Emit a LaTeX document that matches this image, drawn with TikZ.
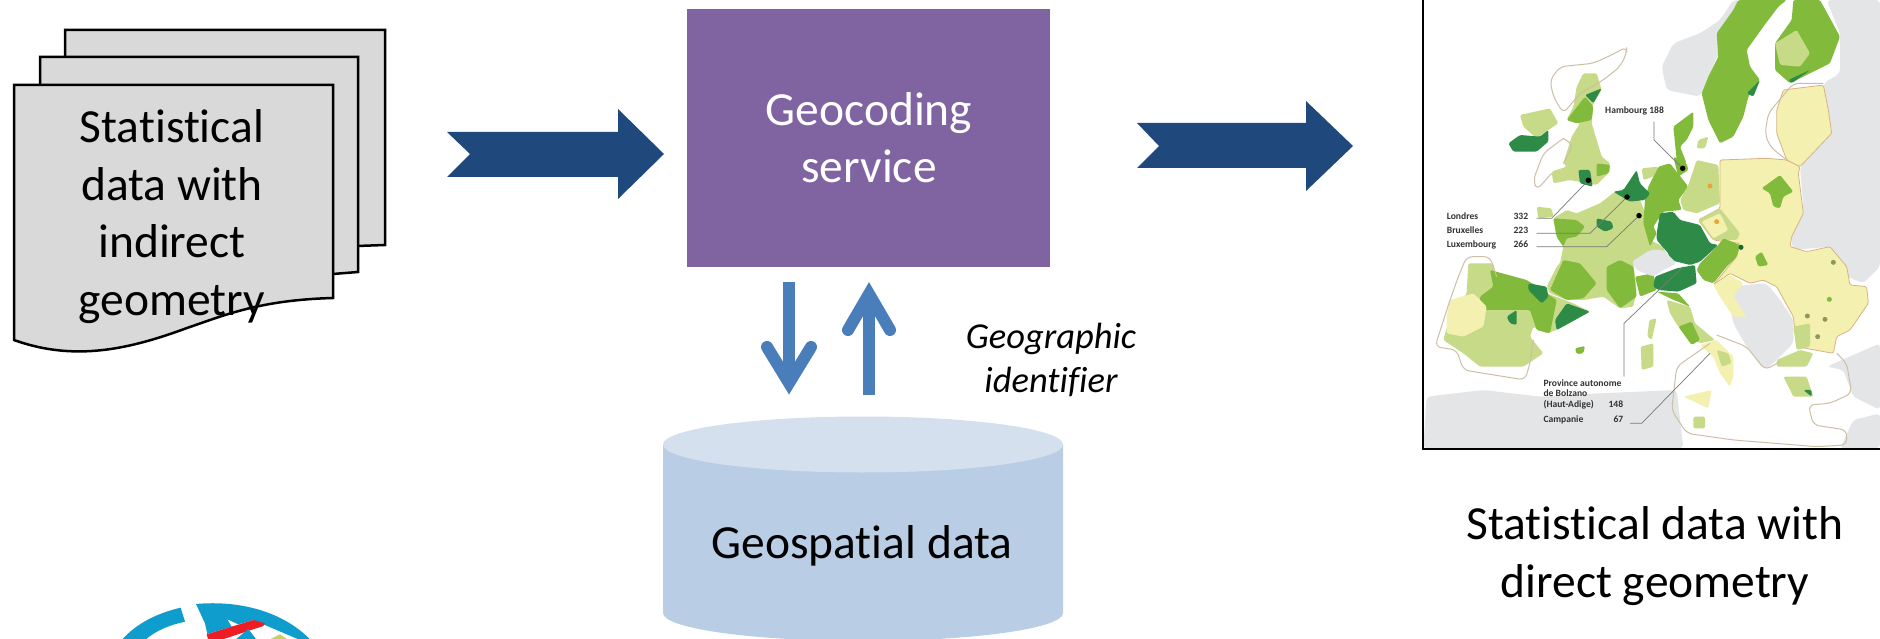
\documentclass[tikz,border=0pt]{standalone}
\usepackage{fontspec}
\setmainfont{Carlito}[Ligatures=CommonOff]
\definecolor{docgrey}{HTML}{D9D9D9}
\definecolor{purplebox}{HTML}{8064A2}
\definecolor{navy}{HTML}{1F497D}
\definecolor{steel}{HTML}{4A7EBB}
\definecolor{cylbody}{HTML}{B9CDE5}
\definecolor{cyltop}{HTML}{D5E0EF}
\definecolor{landgrey}{HTML}{E4E5E7}
\definecolor{mapyel}{HTML}{F4F1B0}
\definecolor{maplg}{HTML}{C6DA88}
\definecolor{mapmg}{HTML}{82BA3C}
\definecolor{mapdg}{HTML}{2E8A47}
\definecolor{mapoli}{HTML}{D6D98A}
\definecolor{loopc}{HTML}{CDBFA6}
\definecolor{leader}{HTML}{77797B}
\definecolor{logoblue}{HTML}{0E9DCC}
\definecolor{logored}{HTML}{EE1C25}
\definecolor{logogreen}{HTML}{C5D068}
\tikzset{
  x=1pt,y=-1pt,
  sheet/.style={fill=docgrey,draw=black,line width=2.5pt,line join=miter},
  blockarrow/.style={fill=navy},
  linkshaft/.style={draw=steel,line width=12pt,line cap=butt},
  linkhead/.style={draw=steel,line width=12pt,line cap=round,line join=miter},
  bigtext/.style={font=\fontsize{47.5}{57.5}\selectfont,align=center,inner sep=0pt},
  yl/.style={fill=mapyel,rounded corners=1.5pt},
  lg/.style={fill=maplg,rounded corners=1.5pt},
  mg/.style={fill=mapmg,rounded corners=1.5pt},
  dg/.style={fill=mapdg,rounded corners=1.5pt},
  ol/.style={fill=mapoli,rounded corners=1.5pt},
  gy/.style={fill=landgrey,rounded corners=4pt},
  loopline/.style={draw=loopc,line width=1pt,rounded corners=6pt},
  leadline/.style={draw=leader,line width=.7pt},
  citydot/.style={circle,fill=black,inner sep=0pt,minimum size=5.5pt},
  citymark/.style={circle,fill=#1,inner sep=0pt,minimum size=5pt},
  maplabel/.style={font=\fontsize{9.6}{11}\selectfont\bfseries,text=black!80,inner sep=0pt,anchor=base west},
}
\begin{document}
\begin{tikzpicture}
\useasboundingbox (0,0) rectangle (1880,639);
\clip (0,0) rectangle (1880,639);
\fill[white] (0,0) rectangle (1880,639);

% stacked documents
\path[sheet] (65,30) -- (385,30) -- (385,245) -- (300,248) -- (65,248) -- cycle;
\path[sheet] (40,57) -- (358,57) -- (358,272) -- (320,275) -- (40,275) -- cycle;
\path[sheet] (14,85) -- (333,85) -- (333,298) .. controls (260,300) and (225,315) .. (187,328) .. controls (130,349) and (75,362) .. (14,340) -- cycle;
\node[bigtext,anchor=base] (indirect) at (172,315) {Statistical\\data with\\indirect\\geometry};

% block arrows
\path[blockarrow] (447,132) -- (618,132) -- (618,109) -- (664,154) -- (618,199) -- (618,177) -- (447,177) -- (470,154) -- cycle;
\path[blockarrow] (1137,123) -- (1306,123) -- (1306,101) -- (1353,146) -- (1306,191) -- (1306,168) -- (1137,168) -- (1159,146) -- cycle;

% service
\node[fill=purplebox,minimum width=363pt,minimum height=258pt,inner sep=0pt] (service) at (868.5,138) {};
\node[bigtext,text=white,anchor=base] (servicetext) at (869,183) {Geocoding\\service};

% database
\fill[cylbody] (663,444.5) -- (663,613) arc[start angle=180,end angle=360,x radius=200pt,y radius=28pt] -- (1063,444.5) -- cycle;
\fill[cyltop] (863,444.5) ellipse[x radius=200pt,y radius=28pt];
\node[font=\fontsize{47.5}{57}\selectfont,inner sep=0pt,anchor=base] (geodata) at (862,558) {Geospatial data};

% exchange arrows
\coordinate (dntop) at (789,282);
\coordinate (dnapex) at (789,383);
\coordinate (dnl) at (767,347);
\coordinate (dnr) at (811,347);
\coordinate (uptop) at (869,294);
\coordinate (upbase) at (869,395);
\coordinate (upl) at (848,330);
\coordinate (upr) at (890,330);
\draw[linkshaft] (dntop) -- (dnapex);
\draw[linkhead] (dnl) -- (dnapex) -- (dnr);
\draw[linkshaft] (upbase) -- (uptop);
\draw[linkhead] (upl) -- (uptop) -- (upr);
\node[font=\fontsize{36.5}{44}\selectfont\itshape,align=center,inner sep=0pt,anchor=base] (geoid) at (1051,392) {Geographic\\identifier};

% map
\begin{scope}[shift={(1400,0)},x=.33333pt,y=-.33333pt]
  % surrounding land
  \path[gy] (1000,0) -- (960,60) -- (900,100) -- (820,130) -- (785,200) -- (800,270) -- (900,290) -- (960,150) -- (1020,0) -- cycle;
  \path[gy] (1280,0) -- (1440,0) -- (1440,800) -- (1390,850) -- (1340,830) -- (1290,740) -- (1180,750) -- (1170,700) -- (1210,620) -- (1200,500) -- (1290,400) -- (1270,250) -- (1320,220) -- (1320,100) -- cycle;
  \path[gy] (980,860) -- (1100,850) -- (1140,900) -- (1180,960) -- (1180,1030) -- (1130,1080) -- (1095,1110) -- (1040,1040) -- (1000,970) -- cycle;
  \path[gy] (1280,1100) -- (1440,1030) -- (1440,1230) -- (1360,1190) -- (1330,1110) -- cycle;
  \path[gy] (80,1190) -- (250,1170) -- (420,1190) -- (600,1180) -- (830,1170) -- (850,1345) -- (70,1345) -- cycle;
  \path[gy] (1320,1345) -- (1440,1345) -- (1440,1240) -- (1360,1260) -- cycle;
  % east
  \path[yl,draw=loopc!80!orange,line width=.8pt] (960,480) -- (1100,475) -- (1160,480) -- (1200,500) -- (1195,520) -- (1210,640) -- (1175,710) -- (1170,740) -- (1220,755) -- (1290,740) -- (1340,800) -- (1350,855) -- (1400,860) -- (1405,910) -- (1350,990) -- (1310,1010) -- (1300,1060) -- (1190,1040) -- (1180,950) -- (1130,860) -- (1090,840) -- (1050,850) -- (990,820) -- (940,855) -- (1010,770) -- (1020,730) -- (940,720) -- (895,660) -- (960,625) -- cycle;
  \path[yl,draw=loopc!80!orange,line width=.8pt] (1150,270) -- (1270,255) -- (1285,330) -- (1295,400) -- (1200,500) -- (1160,480) -- (1130,400) -- (1130,330) -- cycle;
  \path[yl] (940,855) -- (990,825) -- (1030,850) -- (1000,890) -- (1040,950) -- (1000,950) -- (960,890) -- cycle;
  \path[mg] (1085,565) -- (1140,525) -- (1180,575) -- (1150,590) -- (1140,625) -- (1120,620) -- (1110,580) -- cycle;
  \path[mg] (1065,770) -- (1085,755) -- (1105,795) -- (1075,800) -- cycle;
  \path[ol] (960,670) -- (1020,700) -- (1010,720) -- (975,720) -- cycle;
  % France
  \path[lg] (480,790) -- (490,740) -- (470,710) -- (460,655) -- (500,630) -- (530,640) -- (600,610) -- (645,575) -- (720,600) -- (740,650) -- (750,720) -- (790,740) -- (800,770) -- (720,790) -- (700,790) -- (710,870) -- (700,920) -- (660,925) -- (610,890) -- (550,900) -- (500,900) -- (450,880) -- (440,860) -- (470,800) -- cycle;
  \path[lg] (410,620) -- (455,625) -- (460,650) -- (415,655) -- cycle;
  \path[mg] (620,800) -- (660,780) -- (700,800) -- (710,890) -- (660,925) -- (620,870) -- cycle;
  \path[mg] (705,830) -- (760,820) -- (770,870) -- (720,890) -- cycle;
  \path[mg] (450,870) -- (490,780) -- (540,790) -- (590,850) -- (550,895) -- (500,900) -- cycle;
  \path[mg] (460,655) -- (530,660) -- (555,680) -- (530,710) -- (500,715) -- (490,740) -- (470,710) -- cycle;
  \path[dg] (590,655) -- (635,665) -- (640,685) -- (615,695) -- (590,680) -- cycle;
  % Benelux, Germany
  \path[mg] (775,500) -- (810,490) -- (865,560) -- (835,600) -- (845,630) -- (790,635) -- (760,680) -- (770,700) -- (750,740) -- (730,670) -- (735,600) -- (745,560) -- cycle;
  \path[dg] (640,575) -- (670,570) -- (710,510) -- (720,550) -- (750,580) -- (735,600) -- (690,605) -- cycle;
  \path[lg] (725,505) -- (775,500) -- (760,530) -- (730,540) -- cycle;
  \path[mg] (820,470) -- (860,490) -- (865,510) -- (835,530) -- cycle;
  \path[lg] (840,600) -- (865,555) -- (890,480) -- (955,495) -- (960,610) -- (890,640) -- (850,630) -- cycle;
  \path[lg] (895,660) -- (960,625) -- (1020,700) -- (1010,720) -- (940,720) -- cycle;
  \path[yl] (905,665) -- (960,640) -- (985,690) -- (940,715) -- cycle;
  \path[dg] (770,700) -- (780,640) -- (820,635) -- (840,660) -- (900,675) -- (930,730) -- (955,735) -- (900,785) -- (870,795) -- (810,780) -- (805,760) -- (770,720) -- cycle;
  \path[mg] (900,790) -- (955,735) -- (970,715) -- (1020,735) -- (1010,770) -- (980,800) -- (940,850) -- (910,840) -- (890,810) -- cycle;
  \path[fill=landgrey,rounded corners=3pt] (695,785) -- (750,750) -- (790,750) -- (830,790) -- (790,810) -- (760,830) -- (710,810) -- cycle;
  \path[dg] (760,860) -- (765,830) -- (830,805) -- (885,795) -- (890,850) -- (835,875) -- (775,870) -- cycle;
  % Italy
  \path[lg] (800,900) -- (870,920) -- (885,970) -- (945,1020) -- (900,1030) -- (835,980) -- (810,940) -- cycle;
  \path[mg] (770,875) -- (835,880) -- (870,920) -- (810,895) -- cycle;
  \path[mg] (835,980) -- (875,965) -- (900,1020) -- (875,1035) -- cycle;
  \path[yl] (900,1035) -- (950,1020) -- (1000,1070) -- (1000,1130) -- (990,1160) -- (960,1120) -- (940,1070) -- cycle;
  \path[lg] (950,1050) -- (985,1060) -- (995,1090) -- (965,1100) -- cycle;
  \path[yl] (850,1190) -- (935,1170) -- (925,1225) -- cycle;
  \path[lg] (880,1250) -- (915,1250) -- (915,1285) -- (880,1285) -- cycle;
  \path[lg] (722,1040) -- (760,1030) -- (760,1100) -- (725,1110) -- cycle;
  \path[lg] (748,960) -- (770,955) -- (755,1020) -- (742,1010) -- cycle;
  \path[mg] (525,1045) -- (555,1038) -- (550,1060) -- (530,1062) -- cycle;
  % Iberia
  \path[lg] (205,790) -- (280,790) -- (290,840) -- (400,850) -- (440,880) -- (520,910) -- (570,935) -- (470,990) -- (440,1000) -- (400,980) -- (390,1010) -- (430,1060) -- (370,1100) -- (240,1100) -- (190,1060) -- (130,1020) -- (150,950) -- (200,880) -- cycle;
  \path[mg] (270,810) -- (380,840) -- (470,900) -- (450,1000) -- (410,990) -- (390,930) -- (340,930) -- (240,930) -- (240,890) -- (280,860) -- cycle;
  \path[dg] (385,850) -- (440,860) -- (445,890) -- (425,910) -- (385,870) -- cycle;
  \path[dg] (500,910) -- (570,935) -- (470,990) -- (465,960) -- cycle;
  \path[dg] (320,950) -- (350,930) -- (350,975) -- (330,970) -- cycle;
  \path[yl] (150,900) -- (220,880) -- (260,920) -- (250,980) -- (190,1010) -- (140,1000) -- (140,950) -- cycle;
  % Britain, Ireland
  \path[lg] (550,220) -- (590,220) -- (605,270) -- (580,310) -- (575,370) -- (605,470) -- (630,490) -- (630,515) -- (590,555) -- (510,540) -- (460,550) -- (455,515) -- (500,500) -- (490,490) -- (515,410) -- (540,370) -- (500,360) -- (520,320) -- (530,260) -- cycle;
  \path[mg] (500,360) -- (555,290) -- (580,320) -- (575,360) -- (530,370) -- cycle;
  \path[dg] (555,285) -- (605,265) -- (580,310) -- cycle;
  \path[mg] (590,490) -- (630,495) -- (625,520) -- (590,530) -- cycle;
  \path[dg] (535,510) -- (570,510) -- (578,560) -- (540,550) -- cycle;
  \path[lg] (360,345) -- (450,325) -- (475,370) -- (445,390) -- (410,415) -- (370,380) -- cycle;
  \path[dg] (325,430) -- (360,405) -- (420,410) -- (445,390) -- (445,425) -- (410,455) -- (340,455) -- cycle;
  % Scandinavia
  \path[mg] (1015,0) -- (1000,30) -- (950,100) -- (955,170) -- (925,230) -- (905,280) -- (925,360) -- (960,430) -- (1000,410) -- (1030,350) -- (1045,290) -- (1080,240) -- (1050,200) -- (1040,150) -- (1090,80) -- (1135,20) -- (1160,0) -- cycle;
  \path[dg] (1040,280) -- (1080,240) -- (1060,290) -- cycle;
  \path[mg] (1180,0) -- (1260,0) -- (1320,110) -- (1290,190) -- (1170,250) -- (1125,210) -- (1125,130) -- (1175,60) -- cycle;
  \path[lg] (1125,130) -- (1190,90) -- (1230,160) -- (1200,200) -- (1140,195) -- cycle;
  \path[dg] (1165,240) -- (1230,210) -- (1175,250) -- cycle;
  \path[mg] (820,380) -- (880,335) -- (880,380) -- (860,420) -- (840,440) -- (860,490) -- (830,480) -- cycle;
  \path[lg] (895,420) -- (925,410) -- (915,445) -- (890,445) -- cycle;
  % Balkans, Greece
  \path[lg] (1180,980) -- (1230,970) -- (1230,1040) -- (1190,1050) -- cycle;
  \path[lg] (1130,1080) -- (1200,1050) -- (1240,1060) -- (1220,1100) -- (1130,1100) -- cycle;
  \path[lg] (1150,1130) -- (1220,1130) -- (1240,1190) -- (1180,1190) -- cycle;
  \path[dg] (1210,1170) -- (1235,1170) -- (1235,1190) -- cycle;
  % overseas loops
  \path[loopline] (480,200) -- (580,190) -- (645,160) -- (680,140) -- (680,160) -- (660,200) -- (610,240) -- (540,280) -- (490,340) -- (460,290) -- (450,240) -- cycle;
  \path[loopline] (490,415) -- (520,435) -- (490,490);
  \path[loopline] (490,415) -- (430,460) -- (400,540) -- (410,570) -- (455,520);
  \path[loopline] (290,830) -- (270,770) -- (200,770) -- (175,830) -- (150,900) -- (105,1040) -- (170,1050) -- (190,1110) -- (375,1140) -- (390,1090) -- (400,1020);
  \path[loopline] (1160,480) -- (1110,440) -- (1095,400) -- (1105,340) -- (1180,250) -- (1270,250);
  \path[loopline] (930,1030) -- (830,1100) -- (815,1230) -- (860,1300) -- (1000,1320) -- (1250,1340) -- (1340,1335) -- (1340,1290) -- (1240,1275) -- (1225,1215) -- (1290,1210) -- (1355,1180) -- (1340,1090) -- (1310,1060);
  \path[loopline] (950,1005) -- (1040,1040) -- (1095,1110) -- (1140,1085);
  % small city marks
  \node[citymark=orange!60!mapoli] (m1) at (930,558) {};
  \node[citymark=orange!60!mapoli] (m2) at (950,665) {};
  \node[citymark=mapdg!70!black] (m3) at (1023,742) {};
  \node[citymark=maplg!70!black] (m4) at (1300,787) {};
  \node[citymark=mapmg] (m5) at (1288,898) {};
  \node[citymark=maplg!70!black] (m6) at (1222,948) {};
  \node[citymark=maplg!70!black] (m7) at (1275,958) {};
  \node[citymark=maplg!70!black] (m8) at (1253,1010) {};
  % leaders and cities
  \coordinate (hamb) at (848,505);
  \coordinate (lond) at (565,541);
  \coordinate (brux) at (681,591);
  \coordinate (luxe) at (717,647);
  \node[citydot] (hambdot) at (hamb) {};
  \node[citydot] (londdot) at (lond) {};
  \node[citydot] (bruxdot) at (brux) {};
  \node[citydot] (luxedot) at (luxe) {};
  \coordinate (hambtop) at (762,365);
  \coordinate (hambk) at (762,420);
  \coordinate (londk) at (455,655);
  \coordinate (londe) at (410,655);
  \coordinate (bruxk) at (570,700);
  \coordinate (bruxe) at (410,700);
  \coordinate (luxek) at (620,740);
  \coordinate (luxee) at (410,740);
  \coordinate (bola) at (850,800);
  \coordinate (bolk) at (672,970);
  \coordinate (bole) at (672,1130);
  \coordinate (cama) at (930,1060);
  \coordinate (camk) at (725,1270);
  \coordinate (came) at (690,1270);
  \draw[leadline] (hambtop) -- (hambk) -- (hambdot);
  \draw[leadline] (londdot) -- (londk) -- (londe);
  \draw[leadline] (bruxdot) -- (bruxk) -- (bruxe);
  \draw[leadline] (luxedot) -- (luxek) -- (luxee);
  \draw[leadline] (bola) -- (bolk) -- (bole);
  \draw[leadline] (cama) -- (camk) -- (came);
  \node[maplabel] (lhamb) at (615,341) {Hambourg 188};
  \node[maplabel] (llond) at (140,660) {Londres};
  \node[maplabel] (nlond) at (340,660) {332};
  \node[maplabel] (lbrux) at (140,700) {Bruxelles};
  \node[maplabel] (nbrux) at (340,700) {223};
  \node[maplabel] (lluxe) at (140,743) {Luxembourg};
  \node[maplabel] (nluxe) at (340,743) {266};
  \node[maplabel] (lprov) at (430,1160) {Province autonome};
  \node[maplabel] (lbolz) at (430,1190) {de Bolzano};
  \node[maplabel] (lhaut) at (430,1222) {(Haut-Adige)};
  \node[maplabel] (nhaut) at (625,1222) {148};
  \node[maplabel] (lcamp) at (430,1267) {Campanie};
  \node[maplabel] (ncamp) at (640,1267) {67};
\end{scope}
% map frame
\coordinate (frametop) at (1423,0);
\coordinate (framecorner) at (1423,449);
\coordinate (frameend) at (1880,449);
\draw[black,line width=2pt] (frametop) -- (framecorner) -- (frameend);
\node[bigtext,anchor=base] (direct) at (1655,597) {Statistical data with\\direct geometry};

% logo
\begin{scope}[shift={(90,580)},x=.33333pt,y=-.33333pt]
  \fill[logoblue] (95,180) .. controls (140,130) and (200,100) .. (272,83) -- (285,125) .. controls (240,135) and (200,150) .. (165,180) -- cycle;
  \fill[logoblue] (318,72) .. controls (450,60) and (580,95) .. (662,180) -- (630,180) -- (520,133) -- (490,120) -- (445,133) -- (412,118) -- (425,140) -- (352,162) -- (345,130) -- cycle;
  \fill[logored] (350,163) -- (490,120) -- (525,130) -- (520,138) -- (392,180) -- (355,180) -- cycle;
  \fill[logoblue] (435,180) -- (475,147) -- (500,180) -- cycle;
  \fill[logogreen] (535,180) -- (570,163) -- (595,180) -- cycle;
\end{scope}
\end{tikzpicture}
\end{document}
